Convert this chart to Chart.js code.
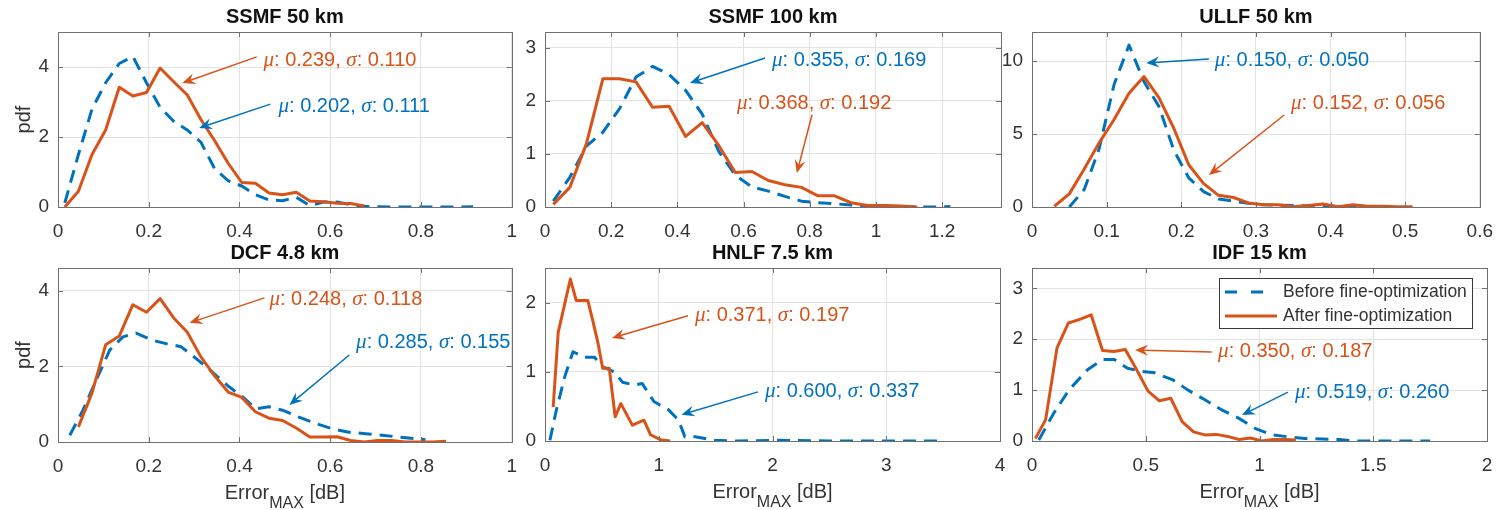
<!doctype html>
<html>
<head>
<meta charset="utf-8">
<script src="https://cdn.jsdelivr.net/npm/chart.js@4.4.0/dist/chart.umd.min.js"></script>
<style>
  body { margin: 0; background: #fff; }
  #page { position: relative; width: 1506px; height: 510px; overflow: hidden; background: #fff; }
  .panel { position: absolute; }
</style>
</head>
<body>
<div id="page"></div>
<script>
// ---- data ----
var titles = ['SSMF 50 km', 'SSMF 100 km', 'ULLF 50 km', 'DCF 4.8 km', 'HNLF 7.5 km', 'IDF 15 km'];

var ssmf50Before = [[0.015,0.12],[0.045,1.5],[0.075,2.8],[0.105,3.55],[0.135,4.1],[0.165,4.3],[0.195,3.55],[0.225,2.85],[0.255,2.45],[0.285,2.2],[0.315,1.85],[0.345,1.1],[0.375,0.75],[0.405,0.6],[0.435,0.35],[0.465,0.2],[0.495,0.18],[0.525,0.28],[0.555,0.04],[0.585,0.14],[0.615,0.14],[0.645,0.07],[0.675,0.02],[0.705,0.01],[0.735,0],[0.765,0],[0.795,0],[0.825,0],[0.855,0],[0.885,0],[0.915,0.01]];
var ssmf50After = [[0.015,0],[0.045,0.45],[0.075,1.5],[0.105,2.2],[0.135,3.42],[0.165,3.17],[0.195,3.27],[0.225,3.97],[0.255,3.58],[0.285,3.2],[0.315,2.5],[0.345,1.9],[0.375,1.25],[0.405,0.7],[0.435,0.68],[0.465,0.4],[0.495,0.35],[0.525,0.42],[0.555,0.17],[0.585,0.15],[0.615,0.11],[0.645,0.1],[0.675,0.03]];

var ssmf100Before = [[0.025,0.11],[0.075,0.56],[0.125,1.15],[0.175,1.41],[0.225,1.85],[0.275,2.45],[0.325,2.65],[0.375,2.5],[0.425,2.2],[0.475,1.75],[0.525,1.05],[0.575,0.6],[0.625,0.38],[0.675,0.3],[0.725,0.2],[0.775,0.11],[0.825,0.08],[0.875,0.06],[0.925,0.04],[0.975,0.01],[1.025,0.01],[1.075,0.01],[1.125,0],[1.175,0],[1.225,0.01]];
var ssmf100After = [[0.025,0.05],[0.075,0.37],[0.125,1.19],[0.175,2.42],[0.225,2.42],[0.275,2.36],[0.325,1.88],[0.375,1.9],[0.425,1.33],[0.475,1.59],[0.525,1.16],[0.575,0.65],[0.625,0.67],[0.675,0.5],[0.725,0.42],[0.775,0.37],[0.825,0.21],[0.875,0.21],[0.925,0.08],[0.975,0.03],[1.025,0.03],[1.075,0.02],[1.125,0]];

var ullf50Before = [[0.05,0],[0.07,1.2],[0.09,4.0],[0.11,8.4],[0.13,11.1],[0.15,8.6],[0.17,6.9],[0.19,3.9],[0.21,2.0],[0.23,1.05],[0.25,0.55],[0.27,0.4],[0.29,0.25],[0.31,0.15],[0.33,0.12],[0.35,0.1],[0.37,0.06],[0.39,0.05],[0.41,0.04],[0.43,0.02],[0.45,0]];
var ullf50After = [[0.03,0.05],[0.05,0.9],[0.07,2.6],[0.09,4.4],[0.11,6.0],[0.13,7.8],[0.15,8.95],[0.17,7.5],[0.19,5.4],[0.21,2.9],[0.23,1.6],[0.25,0.8],[0.27,0.65],[0.29,0.28],[0.31,0.15],[0.33,0.15],[0.35,0.02],[0.37,0.1],[0.39,0.2],[0.41,0.02],[0.43,0.15],[0.45,0.05],[0.47,0.05],[0.49,0.02],[0.51,0.02]];

var dcfBefore = [[0.026,0.18],[0.055,0.84],[0.084,1.63],[0.114,2.43],[0.143,2.78],[0.172,2.88],[0.209,2.69],[0.238,2.6],[0.271,2.52],[0.304,2.21],[0.34,1.85],[0.377,1.46],[0.407,1.19],[0.436,0.88],[0.465,0.93],[0.495,0.84],[0.531,0.66],[0.568,0.49],[0.604,0.35],[0.641,0.26],[0.678,0.22],[0.714,0.18],[0.751,0.13],[0.81,0.06]];
var dcfAfter = [[0.045,0.4],[0.075,1.3],[0.105,2.57],[0.135,2.8],[0.165,3.63],[0.195,3.43],[0.225,3.79],[0.255,3.28],[0.285,2.9],[0.315,2.25],[0.345,1.75],[0.375,1.32],[0.405,1.18],[0.435,0.8],[0.465,0.63],[0.495,0.57],[0.525,0.37],[0.555,0.13],[0.585,0.13],[0.615,0.14],[0.645,0.04],[0.675,0],[0.705,0.04],[0.735,0.04],[0.765,0],[0.795,0],[0.825,0],[0.855,0.02]];

var hnlfBefore = [[0.043,0.01],[0.10,0.45],[0.174,0.93],[0.246,1.29],[0.348,1.21],[0.435,1.21],[0.507,1.07],[0.609,1.0],[0.681,0.85],[0.783,0.81],[0.855,0.83],[0.957,0.57],[1.087,0.45],[1.174,0.3],[1.23,0.06],[1.32,0.06],[1.49,0.01],[1.7,0],[2.0,0.01],[2.5,0],[3.0,0],[3.5,0]];
var hnlfAfter = [[0.072,0.49],[0.116,1.57],[0.223,2.34],[0.275,2.03],[0.377,2.03],[0.42,1.74],[0.464,1.43],[0.507,1.05],[0.565,1.05],[0.617,0.35],[0.667,0.54],[0.768,0.23],[0.87,0.3],[0.928,0.09],[1.014,0.02],[1.10,0]];

var idfBefore = [[0.03,0.02],[0.096,0.55],[0.162,1.0],[0.244,1.4],[0.31,1.6],[0.362,1.6],[0.42,1.43],[0.48,1.37],[0.539,1.34],[0.62,1.2],[0.686,1.0],[0.76,0.81],[0.834,0.61],[0.908,0.45],[0.98,0.25],[1.055,0.12],[1.13,0.08],[1.2,0.05],[1.277,0.04],[1.35,0.03],[1.42,0],[1.55,0],[1.65,0],[1.75,0]];
var idfAfter = [[0.015,0.05],[0.06,0.42],[0.11,1.83],[0.16,2.32],[0.21,2.39],[0.26,2.48],[0.31,1.78],[0.36,1.76],[0.41,1.8],[0.46,1.4],[0.51,0.98],[0.56,0.79],[0.61,0.84],[0.66,0.38],[0.71,0.18],[0.76,0.12],[0.81,0.13],[0.86,0.09],[0.91,0.03],[0.96,0.06],[1.01,0],[1.06,0.03],[1.11,0.03],[1.16,0.02]];

// mean / std shown in the annotations
var statsBefore = [[0.202,0.111],[0.355,0.169],[0.150,0.050],[0.285,0.155],[0.600,0.337],[0.519,0.260]];
var statsAfter  = [[0.239,0.110],[0.368,0.192],[0.152,0.056],[0.248,0.118],[0.371,0.197],[0.350,0.187]];

// axis ticks and limits
var xTicks = [[0,0.2,0.4,0.6,0.8,1],[0,0.2,0.4,0.6,0.8,1,1.2],[0,0.1,0.2,0.3,0.4,0.5,0.6],[0,0.2,0.4,0.6,0.8,1],[0,1,2,3,4],[0,0.5,1,1.5,2]];
var yTicks = [[0,2,4],[0,1,2,3],[0,5,10],[0,2,4],[0,1,2],[0,1,2,3]];
var xMax = [1, 1.378, 0.6, 1, 4, 2];
var yMax = [5, 3.3, 12, 4.6, 2.5, 3.4];

var beforeSeries = [ssmf50Before, ssmf100Before, ullf50Before, dcfBefore, hnlfBefore, idfBefore];
var afterSeries = [ssmf50After, ssmf100After, ullf50After, dcfAfter, hnlfAfter, idfAfter];

// ---- layout / style ----
var BLUE = '#0072BD', ORANGE = '#D95319';
var TXT = '#333333', GRID = '#e3e3e3', BOX = '#707070';
var FONT = '"Liberation Sans", Arial, sans-serif';
var GREEK = '"Liberation Serif", serif';

// canvas boxes and plot areas in page pixels [left, top, width, height] / [l, t, r, b]
var canvasBoxes = [[0,0,530,245],[505,0,515,245],[985,0,521,245],[0,245,530,265],[505,245,515,265],[985,245,521,265]];
var plotAreas = [[58,32,515,207],[545,32,1001,207],[1032,32,1487,207],[58,268,513,442],[545,268,1000,441],[1032,268,1487,441]];

// annotation placement in data units: text anchor, arrow tail, arrow head
var notes = [
  [{s:'a', t:[0.453,4.2], f:[0.438,4.29], h:[0.274,3.54]}, {s:'b', t:[0.486,2.86], f:[0.468,2.94], h:[0.311,2.26]}],
  [{s:'b', t:[0.686,2.77], f:[0.665,2.81], h:[0.438,2.34]}, {s:'a', t:[0.58,1.96], f:[0.807,1.74], h:[0.761,0.64]}],
  [{s:'b', t:[0.245,10.08], f:[0.237,10.15], h:[0.153,9.88]}, {s:'a', t:[0.347,7.13], f:[0.338,6.31], h:[0.237,2.19]}],
  [{s:'a', t:[0.466,3.76], f:[0.455,3.81], h:[0.29,3.15]}, {s:'b', t:[0.657,2.62], f:[0.642,2.3], h:[0.51,0.98]}],
  [{s:'a', t:[1.319,1.82], f:[1.257,1.81], h:[0.589,1.49]}, {s:'b', t:[1.934,0.71], f:[1.873,0.71], h:[1.2,0.38]}],
  [{s:'a', t:[0.818,1.75], f:[0.79,1.75], h:[0.453,1.79]}, {s:'b', t:[1.156,0.96], f:[1.125,0.96], h:[0.923,0.51]}]
];

function fmt(v) { return String(+v.toFixed(3)); }

function drawArrow(ctx, x1, y1, x2, y2, color) {
  var dx = x2 - x1, dy = y2 - y1, len = Math.sqrt(dx*dx + dy*dy);
  var ux = dx/len, uy = dy/len, nx = -uy, ny = ux;
  var L = 13, W = 5.5;
  ctx.save();
  ctx.strokeStyle = color; ctx.fillStyle = color; ctx.lineWidth = 1.5;
  ctx.beginPath(); ctx.moveTo(x1, y1); ctx.lineTo(x2 - ux*L*0.6, y2 - uy*L*0.6); ctx.stroke();
  ctx.beginPath();
  ctx.moveTo(x2, y2);
  ctx.lineTo(x2 - ux*L + nx*W, y2 - uy*L + ny*W);
  ctx.lineTo(x2 - ux*L*0.65, y2 - uy*L*0.65);
  ctx.lineTo(x2 - ux*L - nx*W, y2 - uy*L - ny*W);
  ctx.closePath(); ctx.fill();
  ctx.restore();
}

function drawStats(ctx, x, y, st, color) {
  var parts = [['\u03bc', true], [': ' + st[0].toFixed(3) + ', ', false], ['\u03c3', true], [': ' + st[1].toFixed(3), false]];
  ctx.save();
  ctx.fillStyle = color; ctx.textBaseline = 'middle'; ctx.textAlign = 'left';
  parts.forEach(function(p) {
    ctx.font = p[1] ? 'italic 21px ' + GREEK : '20px ' + FONT;
    ctx.fillText(p[0], x, y);
    x += ctx.measureText(p[0]).width;
  });
  ctx.restore();
}

function makeDecor(i) {
  return {
    id: 'decor' + i,
    afterDraw: function(chart) {
      var ctx = chart.ctx, a = chart.chartArea;
      var xs = chart.scales.x, ys = chart.scales.y;
      ctx.save();
      // inner tick marks
      ctx.strokeStyle = BOX; ctx.lineWidth = 1;
      ctx.beginPath();
      xTicks[i].forEach(function(v) {
        var px = Math.round(xs.getPixelForValue(v)) + 0.5;
        if (px <= a.left + 1 || px >= a.right - 1) return;
        ctx.moveTo(px, a.bottom); ctx.lineTo(px, a.bottom - 5);
        ctx.moveTo(px, a.top); ctx.lineTo(px, a.top + 5);
      });
      yTicks[i].forEach(function(v) {
        var py = Math.round(ys.getPixelForValue(v)) + 0.5;
        if (py <= a.top + 1 || py >= a.bottom - 1) return;
        ctx.moveTo(a.left, py); ctx.lineTo(a.left + 5, py);
        ctx.moveTo(a.right, py); ctx.lineTo(a.right - 5, py);
      });
      ctx.stroke();
      // axes box
      ctx.strokeRect(Math.round(a.left) + 0.5, Math.round(a.top) + 0.5, Math.round(a.right - a.left), Math.round(a.bottom - a.top));

      // title
      ctx.fillStyle = '#111'; ctx.textAlign = 'center'; ctx.textBaseline = 'middle';
      ctx.font = 'bold 20px ' + FONT;
      ctx.fillText(titles[i], (a.left + a.right) / 2, a.top - 15);

      // y label on left column
      if (i % 3 === 0) {
        ctx.save();
        ctx.translate(a.left - 34, (a.top + a.bottom) / 2);
        ctx.rotate(-Math.PI / 2);
        ctx.fillStyle = TXT; ctx.font = '20px ' + FONT;
        ctx.fillText('pdf', 0, 0);
        ctx.restore();
      }
      // x label on bottom row
      if (i >= 3) {
        ctx.fillStyle = TXT; ctx.textBaseline = 'alphabetic'; ctx.textAlign = 'left';
        ctx.font = '20px ' + FONT;
        var w1 = ctx.measureText('Error').width;
        ctx.font = '16px ' + FONT;
        var w2 = ctx.measureText('MAX').width;
        ctx.font = '20px ' + FONT;
        var w3 = ctx.measureText(' [dB]').width;
        var x0 = (a.left + a.right) / 2 - (w1 + w2 + w3) / 2, yb = a.bottom + 57;
        ctx.fillText('Error', x0, yb);
        ctx.font = '16px ' + FONT;
        ctx.fillText('MAX', x0 + w1, yb + 9);
        ctx.font = '20px ' + FONT;
        ctx.fillText(' [dB]', x0 + w1 + w2, yb);
      }

      // annotations
      notes[i].forEach(function(n) {
        var col = n.s === 'a' ? ORANGE : BLUE;
        var st = n.s === 'a' ? statsAfter[i] : statsBefore[i];
        drawArrow(ctx, xs.getPixelForValue(n.f[0]), ys.getPixelForValue(n.f[1]),
                  xs.getPixelForValue(n.h[0]), ys.getPixelForValue(n.h[1]), col);
        drawStats(ctx, xs.getPixelForValue(n.t[0]), ys.getPixelForValue(n.t[1]), st, col);
      });

      // legend in the last panel
      if (i === 5) {
        var lw = 253, lh = 50, lx = a.right - 15 - lw, ly = a.top + 10;
        ctx.fillStyle = '#fff'; ctx.fillRect(lx, ly, lw, lh);
        ctx.strokeStyle = '#3a3a3a'; ctx.lineWidth = 1;
        ctx.strokeRect(Math.round(lx) + 0.5, Math.round(ly) + 0.5, lw, lh);
        var rows = [['Before fine-optimization', BLUE, [12, 14]], ['After fine-optimization', ORANGE, []]];
        rows.forEach(function(r, k) {
          var yy = ly + 14 + k * 24;
          ctx.strokeStyle = r[1]; ctx.lineWidth = 3; ctx.setLineDash(r[2]);
          ctx.beginPath(); ctx.moveTo(lx + 6, yy); ctx.lineTo(lx + 58, yy); ctx.stroke();
          ctx.setLineDash([]);
          ctx.fillStyle = TXT; ctx.font = '17.5px ' + FONT; ctx.textBaseline = 'middle'; ctx.textAlign = 'left';
          ctx.fillText(r[0], lx + 64, yy);
        });
      }
      ctx.restore();
    }
  };
}

var page = document.getElementById('page');
for (var i = 0; i < 6; i++) {
  (function(i) {
    var b = canvasBoxes[i], ar = plotAreas[i];
    var div = document.createElement('div');
    div.className = 'panel';
    div.style.left = b[0] + 'px'; div.style.top = b[1] + 'px';
    div.style.width = b[2] + 'px'; div.style.height = b[3] + 'px';
    var cv = document.createElement('canvas');
    cv.width = b[2]; cv.height = b[3];
    cv.style.width = b[2] + 'px'; cv.style.height = b[3] + 'px';
    div.appendChild(cv);
    page.appendChild(div);

    var yWidth = ar[0] - b[0];
    var xHeight = b[1] + b[3] - ar[3];
    var tickFont = { size: 19, family: FONT };

    new Chart(cv, {
      type: 'line',
      data: {
        datasets: [
          { label: 'Before fine-optimization', data: beforeSeries[i].map(function(p) { return { x: p[0], y: p[1] }; }),
            borderColor: BLUE, borderWidth: 3, borderDash: [13, 8], borderCapStyle: 'butt', borderJoinStyle: 'round',
            pointRadius: 0, fill: false, tension: 0, order: 2 },
          { label: 'After fine-optimization', data: afterSeries[i].map(function(p) { return { x: p[0], y: p[1] }; }),
            borderColor: ORANGE, borderWidth: 3, borderJoinStyle: 'round',
            pointRadius: 0, fill: false, tension: 0, order: 1 }
        ]
      },
      options: {
        responsive: false, animation: false, devicePixelRatio: 1,
        layout: { padding: { left: 0, top: ar[1] - b[1], right: b[0] + b[2] - ar[2], bottom: 0 } },
        plugins: { legend: { display: false }, tooltip: { enabled: false }, title: { display: false } },
        scales: {
          x: {
            type: 'linear', min: 0, max: xMax[i],
            afterBuildTicks: function(s) { s.ticks = xTicks[i].map(function(v) { return { value: v }; }); },
            afterFit: function(s) { s.height = xHeight; },
            grid: { color: GRID, drawTicks: false }, border: { display: false },
            ticks: { padding: 13, font: tickFont, color: TXT, maxRotation: 0, autoSkip: false, callback: function(v) { return fmt(v); } }
          },
          y: {
            type: 'linear', min: 0, max: yMax[i],
            afterBuildTicks: function(s) { s.ticks = yTicks[i].map(function(v) { return { value: v }; }); },
            afterFit: function(s) { s.width = yWidth; },
            grid: { color: GRID, drawTicks: false }, border: { display: false },
            ticks: { padding: 9, font: tickFont, color: TXT, autoSkip: false, callback: function(v) { return fmt(v); } }
          }
        }
      },
      plugins: [makeDecor(i)]
    });
  })(i);
}
</script>
</body>
</html>
